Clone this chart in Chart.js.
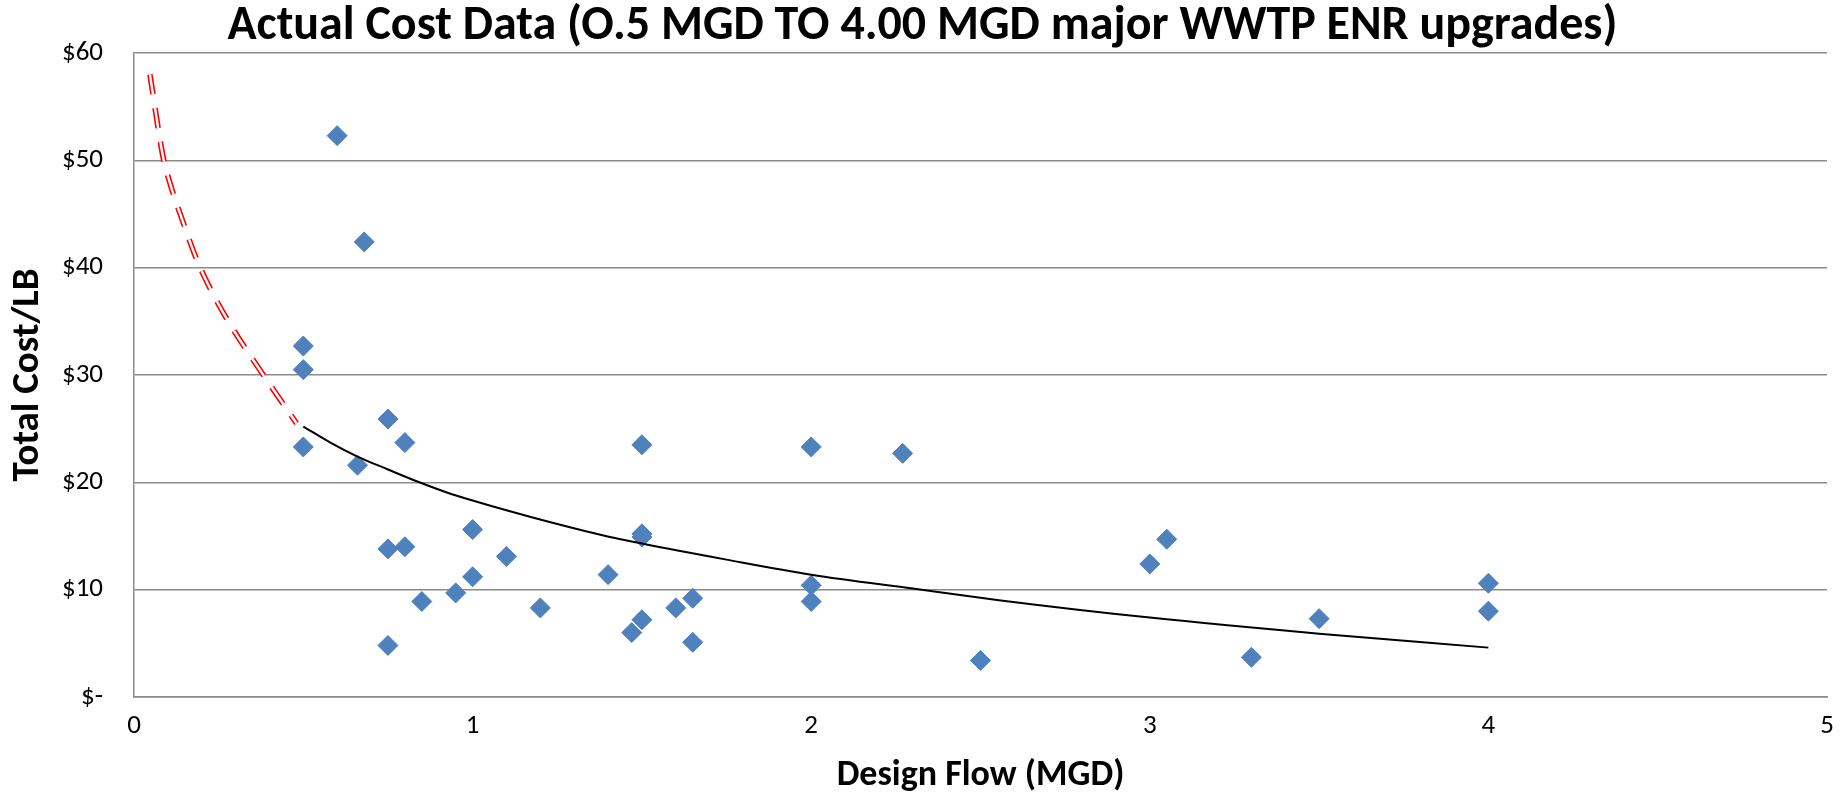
<!DOCTYPE html>
<html>
<head>
<meta charset="utf-8">
<title>Actual Cost Data</title>
<script src="https://cdn.jsdelivr.net/npm/chart.js@4.4.1/dist/chart.umd.min.js"></script>
<style>
  html, body { margin: 0; padding: 0; background: #fff; }
  #wrap { width: 1845px; height: 798px; }
</style>
</head>
<body>
<div id="wrap"><canvas id="chart"></canvas></div>
<script>
// ================= DATA =================
// measured plants: design flow (MGD) and total cost per lb
const flowMgd = [0.60, 0.68, 0.50, 0.50, 0.50, 0.75, 0.80, 0.66, 0.75, 0.80,
                 0.75, 0.85, 0.95, 1.00, 1.00, 1.10, 1.20, 1.40, 1.47, 1.50,
                 1.50, 1.50, 1.50, 1.60, 1.65, 1.65, 2.00, 2.00, 2.00, 2.27,
                 2.50, 3.00, 3.05, 3.30, 3.50, 4.00, 4.00];
const costPerLb = [52.3, 42.4, 32.7, 30.5, 23.3, 25.9, 23.7, 21.6, 13.8, 14.0,
                   4.8, 8.9, 9.7, 15.6, 11.2, 13.1, 8.3, 11.4, 6.0, 23.5,
                   15.2, 14.9, 7.2, 8.3, 9.2, 5.1, 10.4, 8.9, 23.3, 22.7,
                   3.4, 12.4, 14.7, 3.7, 7.3, 10.6, 8.0];

// black trend line
const trendX = [0.5, 0.58, 0.66, 0.75, 0.835, 0.92, 1.0, 1.18, 1.38, 1.5,
                1.75, 2.0, 2.3, 2.56, 3.0, 3.5, 4.0];
const trendY = [25.2, 23.7, 22.4, 21.2, 20.1, 19.1, 18.3, 16.7, 15.1, 14.3,
                12.8, 11.4, 10.1, 9.0, 7.4, 5.9, 4.6];

// red double dashed extension below 0.5 MGD
const extX = [0.047, 0.086, 0.106, 0.142, 0.186, 0.234, 0.29, 0.352, 0.48];
const extY = [58.0, 50.3, 47.9, 44.5, 40.7, 37.5, 34.4, 31.4, 25.5];

const xTicks = [0, 1, 2, 3, 4, 5];
const yTicks = [0, 10, 20, 30, 40, 50, 60];

const toPoints = (xs, ys) => xs.map((x, i) => ({ x: x, y: ys[i] }));

const FONT = "Carlito, Lato, 'Open Sans', sans-serif";
const GRID = "#8a8a8a";

// ================= CHART =================
const ctx = document.getElementById("chart").getContext("2d");

new Chart(ctx, {
  type: "scatter",
  data: {
    datasets: [
      {
        // inner white stroke turns the thick red dash into a double line
        data: toPoints(extX, extY),
        showLine: true,
        borderColor: "#ffffff",
        borderWidth: 2.4,
        borderDash: [20, 14],
        pointRadius: 0,
        cubicInterpolationMode: "monotone"
      },
      {
        data: toPoints(extX, extY),
        showLine: true,
        borderColor: "#ff0000",
        borderWidth: 5.6,
        borderDash: [20, 14],
        pointRadius: 0,
        cubicInterpolationMode: "monotone"
      },
      {
        data: toPoints(trendX, trendY),
        showLine: true,
        borderColor: "#000000",
        borderWidth: 2,
        pointRadius: 0,
        cubicInterpolationMode: "monotone"
      },
      {
        data: toPoints(flowMgd, costPerLb),
        pointStyle: "rectRot",
        pointRadius: 10,
        pointBackgroundColor: "#4F81BD",
        pointBorderColor: "#4F81BD",
        pointBorderWidth: 1
      }
    ]
  },
  options: {
    responsive: true,
    maintainAspectRatio: false,
    animation: false,
    devicePixelRatio: 1,
    layout: { padding: 0 },
    plugins: {
      legend: { display: false },
      tooltip: { enabled: false },
      title: {
        display: true,
        text: "Actual Cost Data (O.5 MGD TO 4.00 MGD major WWTP ENR upgrades)",
        color: "#000",
        font: { family: FONT, size: 48, weight: "bold", lineHeight: 1 },
        padding: { top: 3, bottom: 2 }
      }
    },
    scales: {
      x: {
        type: "linear",
        min: 0,
        max: 5,
        afterBuildTicks: scale => { scale.ticks = xTicks.map(v => ({ value: v })); },
        afterFit: scale => { scale.height = 101; scale.paddingRight = 18; },
        grid: { display: false, drawTicks: false },
        border: { display: true, color: GRID, width: 1.5 },
        ticks: {
          color: "#000",
          padding: 13,
          font: { family: FONT, size: 27 }
        },
        title: {
          display: true,
          text: "Design Flow (MGD)",
          color: "#000",
          font: { family: FONT, size: 36, weight: "bold", lineHeight: 1 },
          padding: { top: 0, bottom: 4 }
        }
      },
      y: {
        min: 0,
        max: 60,
        afterBuildTicks: scale => { scale.ticks = yTicks.map(v => ({ value: v })); },
        afterFit: scale => { scale.width = 134; },
        grid: { color: GRID, lineWidth: 1.5, drawTicks: false },
        border: { display: true, color: GRID, width: 1.5 },
        ticks: {
          color: "#000",
          padding: 31,
          font: { family: FONT, size: 27 },
          callback: v => v === 0 ? "$-" : "$" + v
        },
        title: {
          display: true,
          text: "Total Cost/LB",
          color: "#000",
          font: { family: FONT, size: 39, weight: "bold", lineHeight: 1 },
          padding: { top: 9, bottom: 0 }
        }
      }
    }
  }
});
</script>
</body>
</html>
